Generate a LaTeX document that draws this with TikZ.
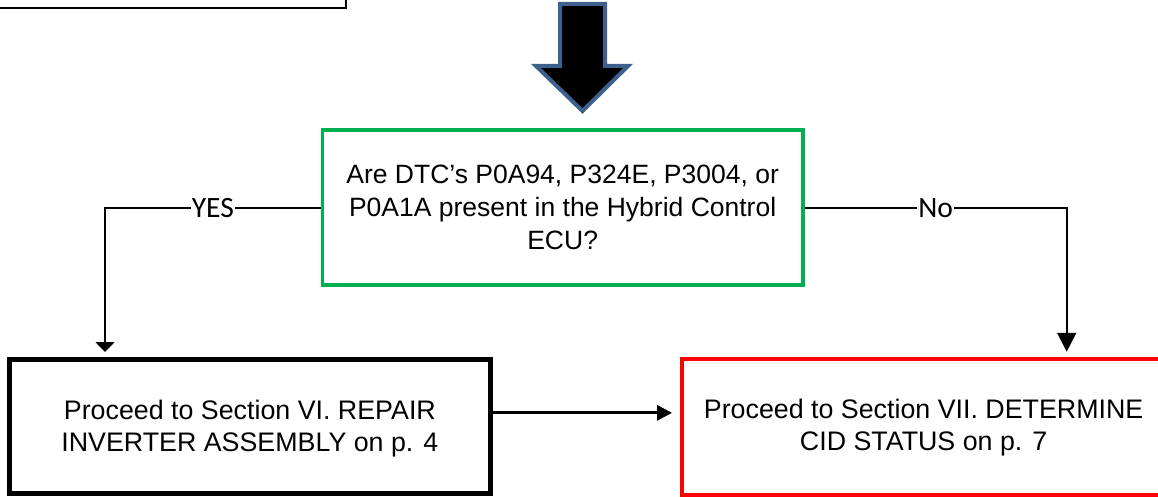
\documentclass[tikz,border=0pt]{standalone}
\usepackage{fontspec}
\setmainfont{Liberation Sans}
\newfontfamily\calfont{Carlito}
\usetikzlibrary{arrows.meta,calc}
\definecolor{qgreen}{RGB}{0,176,80}
\definecolor{arrowblue}{RGB}{62,96,140}
\tikzset{
  boxtext/.style={align=center,font=\fontsize{26.8}{32}\selectfont,inner sep=0pt},
  qbox/.style={draw=qgreen,line width=3.5pt,minimum width=480.7pt,minimum height=155pt,boxtext,font=\fontsize{26.5}{33}\selectfont},
  actbox/.style={draw=black,line width=5pt,minimum width=480.7pt,minimum height=133.7pt,boxtext},
  redbox/.style={draw=red,line width=4.3pt,minimum width=482.8pt,minimum height=135.9pt,boxtext},
  conn/.style={draw=black,line width=1.8pt},
  lbl/.style={fill=white,inner sep=1pt,font=\calfont\fontsize{29.5}{32}\selectfont}
}
\begin{document}
\begin{tikzpicture}[x=1pt,y=-1pt]
\useasboundingbox (0,0) rectangle (1158,497);
\clip (0,0) rectangle (1158,497);
% partly visible box at the top left
\draw[line width=2.3pt] (-10,-20) rectangle (346.2,8.3);
% big down arrow
\draw[fill=black,draw=arrowblue,line width=4pt,line join=miter]
  (560,4) -- (605,4) -- (605,66) -- (628,66) -- (582.5,111) -- (536,66) -- (560,66) -- cycle;
% nodes
\node[qbox] (q) at (562.65,207.5) {Are DTC’s P0A94, P324E, P3004, or\\P0A1A present in the Hybrid Control\\ECU?};
\node[actbox] (lb) at (249.85,426.35) {};
\node[boxtext] (lbt) at (249.85,429) {Proceed to Section VI. REPAIR\\INVERTER ASSEMBLY on p. 4};
\node[redbox] (rb) at (923.6,426.85) {};
\node[boxtext] (rbt) at (923.6,428) {Proceed to Section VII. DETERMINE\\CID STATUS on p. 7};
% connectors
\draw[conn,-{Triangle[width=19pt,length=10pt]}] ([yshift=-0.8pt]q.west) -| ([xshift=-144.85pt,yshift=5pt]lb.north)
  node[lbl,pos=0.25] {YES};
\draw[conn,-{Triangle[width=19pt,length=19pt]}] ([yshift=-0.8pt]q.east) -| ([xshift=143.1pt,yshift=5pt]rb.north)
  node[lbl,pos=0.25] {No};
\draw[line width=3pt,-{Triangle[width=15pt,length=15pt]},shorten >=8pt] ([yshift=13.5pt]lb.east) -- ([yshift=13.5pt]lb.east -| rb.west);
\end{tikzpicture}
\end{document}
